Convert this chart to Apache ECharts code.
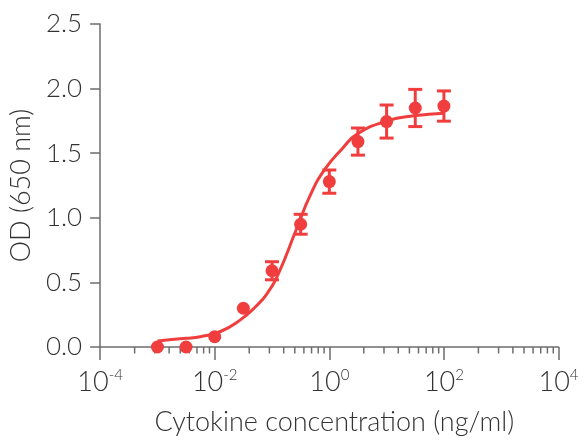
<!DOCTYPE html>
<html>
<head>
<meta charset="utf-8">
<script src="https://cdn.jsdelivr.net/npm/echarts@6/dist/echarts.min.js"></script>
<style>
html,body{margin:0;padding:0;background:#fff;}
#chart{width:584px;height:441px;}
</style>
</head>
<body>
<div id="chart"></div>
<script>
// Data
const concentrations = [0.001, 0.00316, 0.01, 0.0316, 0.1, 0.316, 1, 3.16, 10, 31.6, 100];
const odMean = [0.0, 0.0, 0.08, 0.30, 0.59, 0.95, 1.28, 1.59, 1.745, 1.85, 1.865];
const odError = [0, 0, 0, 0, 0.07, 0.077, 0.09, 0.105, 0.128, 0.144, 0.117];
const fitX = [0.001, 0.00316, 0.0056, 0.0126, 0.028, 0.051, 0.081, 0.13, 0.26, 0.47, 0.85, 1.68, 3.1, 10.2, 30, 100];
const fitY = [0.047, 0.067, 0.08, 0.12, 0.21, 0.31, 0.41, 0.57, 0.90, 1.18, 1.38, 1.535, 1.65, 1.75, 1.79, 1.81];
const minorTickValues = [
  0.0004, 0.0009, 0.0016, 0.0025, 0.0036, 0.0049, 0.0064, 0.0081,
  0.04, 0.09, 0.16, 0.25, 0.36, 0.49, 0.64, 0.81,
  4, 9, 16, 25, 36, 49, 64, 81,
  400, 900, 1600, 2500, 3600, 4900, 6400, 8100
];
const yTickLabels = ['0.0', '0.5', '1.0', '1.5', '2.0', '2.5'];
const xTitle = 'Cytokine concentration (ng/ml)';
const yTitle = 'OD (650 nm)';

const RED = '#f03e3e';
const AXIS = '#6e6e6e';
const TEXT = '#333333';
const FONT = 'Lato';

const chart = echarts.init(document.getElementById('chart'), null, {renderer: 'canvas'});

const pointData = concentrations.map((x, i) => [x, odMean[i]]);
const errData = [];
concentrations.forEach((x, i) => {
  if (odError[i] > 0) errData.push([x, odMean[i] - odError[i], odMean[i] + odError[i]]);
});
const fitData = fitX.map((x, i) => [x, fitY[i]]);

chart.setOption({
  animation: false,
  grid: {left: 100, right: 25.5, top: 24, bottom: 90.5, containLabel: false},
  xAxis: {
    type: 'log',
    logBase: 100,
    min: 0.0001,
    max: 10000,
    name: xTitle,
    nameLocation: 'middle',
    nameGap: 62,
    nameTextStyle: {fontFamily: FONT, fontWeight: 300, fontSize: 27, color: TEXT, padding: [0, 0, 0, 10]},
    axisLine: {show: true, lineStyle: {color: AXIS, width: 1.5}},
    axisTick: {show: true, inside: false, length: 13, lineStyle: {color: AXIS, width: 1.5}},
    splitLine: {show: false},
    minorTick: {show: false},
    axisLabel: {
      margin: 21,
      formatter: function (v) {
        const e = Math.round(Math.log10(v));
        return '{b|10}{s|' + e + '}';
      },
      rich: {
        b: {fontFamily: FONT, fontWeight: 300, fontSize: 27, color: TEXT, lineHeight: 28},
        s: {fontFamily: FONT, fontWeight: 300, fontSize: 15, color: TEXT, verticalAlign: 'top', lineHeight: 28}
      }
    }
  },
  yAxis: {
    type: 'value',
    min: 0,
    max: 2.5,
    interval: 0.5,
    name: yTitle,
    nameLocation: 'middle',
    nameGap: 64,
    nameRotate: 90,
    nameTextStyle: {fontFamily: FONT, fontWeight: 300, fontSize: 27, color: TEXT},
    axisLine: {show: true, lineStyle: {color: AXIS, width: 1.5}},
    axisTick: {show: true, inside: false, length: 10, lineStyle: {color: AXIS, width: 1.5}},
    splitLine: {show: false},
    axisLabel: {
      margin: 18,
      fontFamily: FONT, fontWeight: 300, fontSize: 26, color: TEXT,
      formatter: function (v) { return yTickLabels[Math.round(v / 0.5)]; }
    }
  },
  series: [
    {
      type: 'custom',
      name: 'minorTicks',
      silent: true,
      data: minorTickValues.map(v => [v, 0]),
      renderItem: function (params, api) {
        const p = api.coord([api.value(0), 0]);
        return {
          type: 'line',
          shape: {x1: p[0], y1: p[1], x2: p[0], y2: p[1] + 6.5},
          style: {stroke: AXIS, lineWidth: 1.5}
        };
      },
      z: 1
    },
    {
      type: 'line',
      name: 'fit',
      data: fitData,
      smooth: true,
      showSymbol: false,
      symbol: 'none',
      lineStyle: {color: RED, width: 3},
      z: 2
    },
    {
      type: 'custom',
      name: 'error',
      data: errData,
      renderItem: function (params, api) {
        const x = api.value(0);
        const top = api.coord([x, api.value(2)]);
        const bot = api.coord([x, api.value(1)]);
        const hw = 7;
        const st = {stroke: RED, lineWidth: 3};
        return {
          type: 'group',
          children: [
            {type: 'line', shape: {x1: top[0], y1: top[1], x2: bot[0], y2: bot[1]}, style: st},
            {type: 'line', shape: {x1: top[0] - hw, y1: top[1], x2: top[0] + hw, y2: top[1]}, style: st},
            {type: 'line', shape: {x1: bot[0] - hw, y1: bot[1], x2: bot[0] + hw, y2: bot[1]}, style: st}
          ]
        };
      },
      z: 3
    },
    {
      type: 'scatter',
      name: 'OD',
      data: pointData,
      symbol: 'circle',
      symbolSize: 13,
      itemStyle: {color: RED, opacity: 1},
      z: 4
    }
  ]
});
</script>
</body>
</html>
